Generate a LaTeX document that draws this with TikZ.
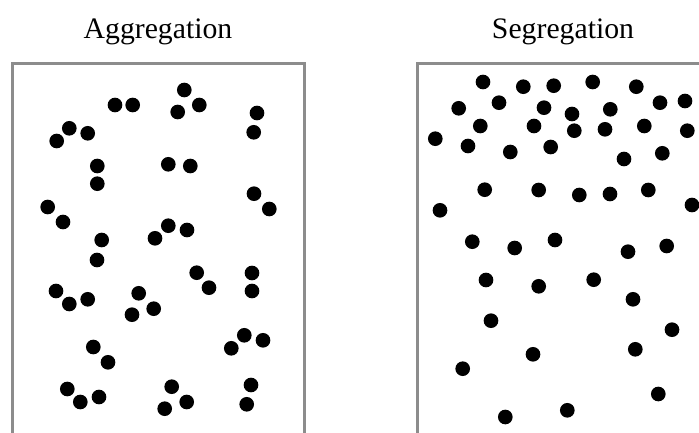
\documentclass[tikz,border=0pt]{standalone}
\usepackage{fontspec}
\setmainfont{Liberation Serif}
\usepackage{xcolor}
\usepackage{tikz}
\definecolor{frameGrey}{HTML}{8C8C8C}
\tikzset{
  panelframe/.style={draw=frameGrey, line width=2.25pt},
  paneltitle/.style={anchor=base, inner sep=0pt, font=\fontsize{22.3}{26}\selectfont},
  particle/.style={fill=black},
}

\begin{document}
\begin{tikzpicture}[x=0.75pt,y=-0.75pt]
  \clip (0,0) rectangle (699,432);
  \useasboundingbox (0,0) rectangle (699,432);

  \node[paneltitle] (aggtitle) at (158,38) {Aggregation};
  \node[paneltitle] (segtitle) at (563,38) {Segregation};

  \draw[panelframe] (12,63) rectangle (304,445);
  \draw[panelframe] (417,63) rectangle (709,445);

  % clustered particles
  \foreach \px/\py in {184.3/90, 115/105, 132.7/105, 177.7/112, 199.3/105, 257/113, 253.7/132.3,
      69.3/128.3, 87.7/133.3, 56.7/141, 97.3/166, 97.3/183.7, 168.3/164.3, 190.3/166,
      254/193.7, 269.3/209, 47.7/207, 63/222, 101.7/240, 155/238.3, 168.3/225.7, 187/230,
      97/260, 196.7/272.7, 209/287.7, 252/273, 252/291, 56/291, 69.3/304, 87.7/299.3,
      138.7/293.3, 153.7/308.7, 132/314.7, 93.3/347, 108/362.3, 244.3/335.3, 263/340.3,
      231.3/348.3, 67.3/389, 80.3/402, 99/397, 171.7/386.7, 186.7/402, 164.7/408.7,
      251/385, 246.7/404.3}
    \fill[particle] (\px,\py) circle (5.5pt);

  % separated particles
  \foreach \px/\py in {483/82, 523.3/86.7, 553.7/85.7, 592.7/82, 636.3/86.7, 458.7/108.3,
      499/102.7, 544/107.7, 572/114, 610.3/109.3, 660/102.7, 685/101, 480.3/126, 534/126,
      574.3/130.7, 605/129.3, 644.3/126, 687.3/130.7, 435.3/138.7, 468/146, 510.3/152,
      550.7/147, 624/159, 662.3/153.3, 484.7/189.7, 538.7/190, 579.3/195, 610/194,
      648.3/190, 692/205, 440/210.3, 472.3/241.7, 514.7/248, 555/240, 628/251.7,
      666.7/246, 486/280, 538.7/286.3, 593.7/279.7, 633/299.3, 491/320.7, 672/329.7,
      533/354.3, 635.3/349.3, 462.7/368.7, 658.3/394, 505.3/417, 567.3/410.3}
    \fill[particle] (\px,\py) circle (5.5pt);
\end{tikzpicture}
\end{document}
